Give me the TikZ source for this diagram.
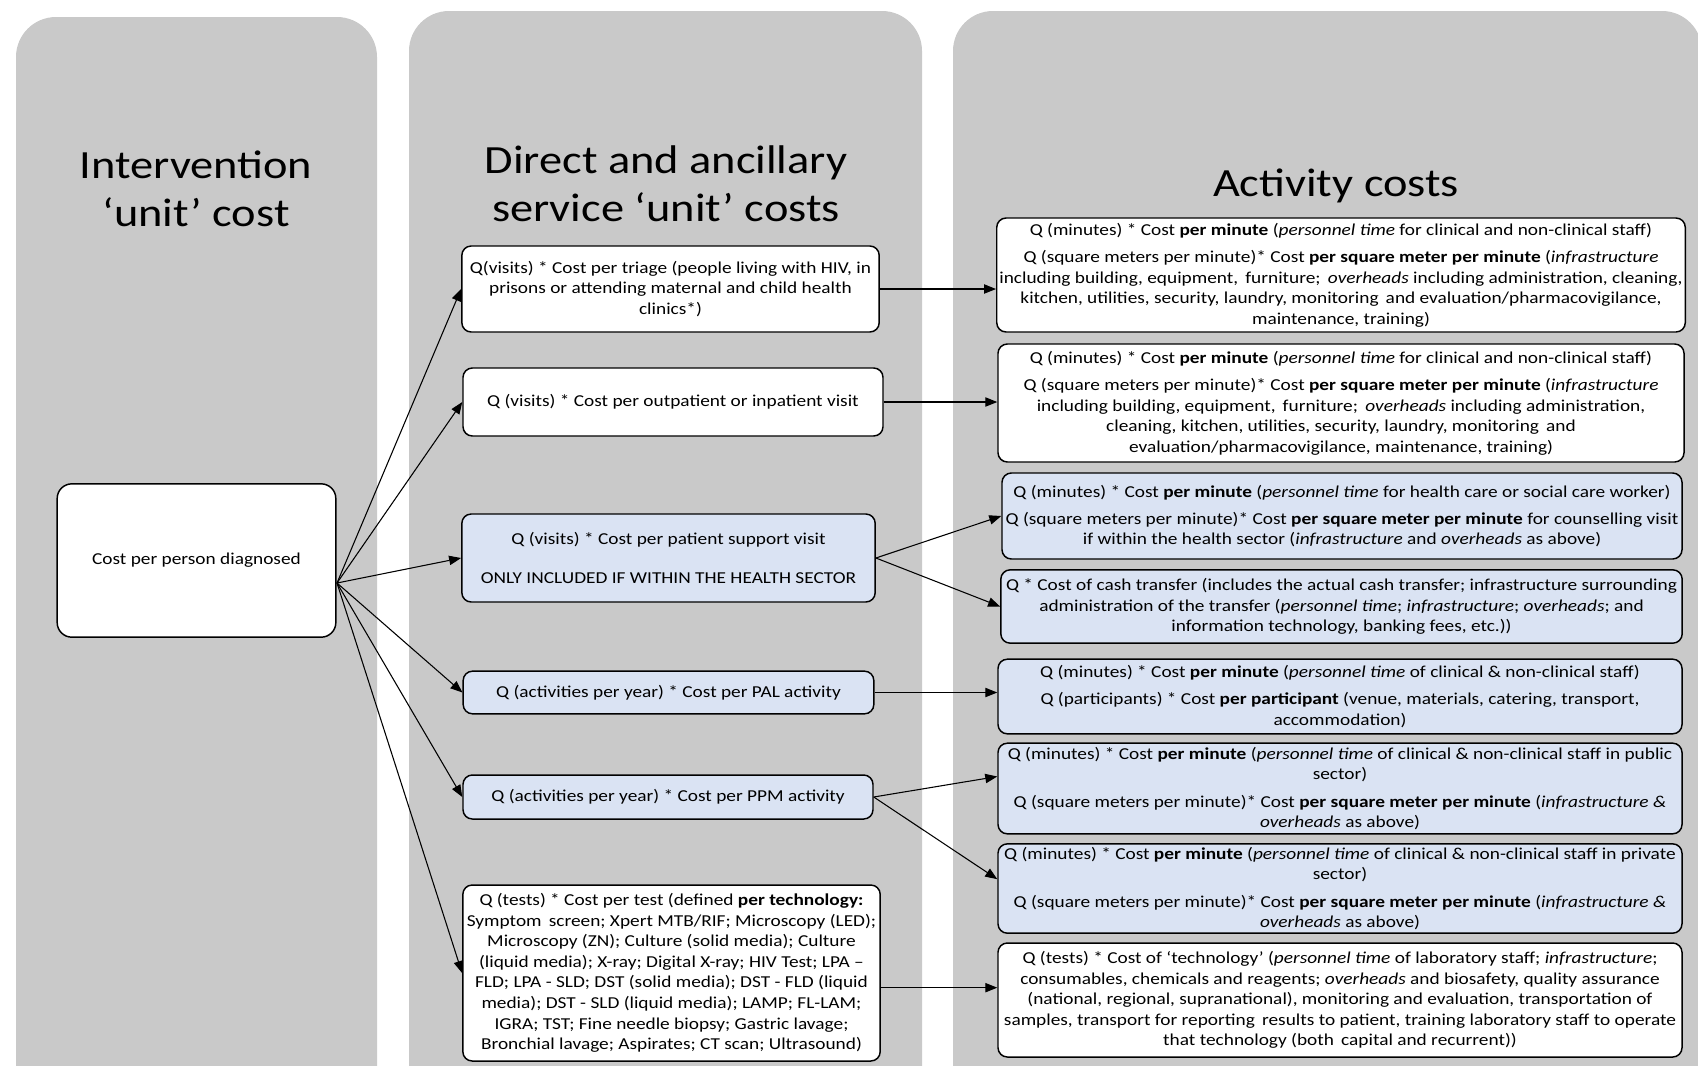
\documentclass[tikz,border=0pt]{standalone}
\usepackage{fontspec}
\setmainfont{Carlito}[FakeStretch=1.16]
\usepackage{tikz}
\usetikzlibrary{arrows.meta}
\definecolor{panelgray}{RGB}{201,201,201}
\definecolor{boxblue}{RGB}{218,227,243}

\begin{document}
\begin{tikzpicture}[x=0.75pt,y=-0.75pt,
    panel/.style={fill=panelgray, rounded corners=30pt},
    title/.style={font=\fontsize{30}{36}\selectfont, align=center},
    wbox/.style={draw, line width=1.1pt, rounded corners=7pt, fill=white,
        align=center, inner sep=2pt, font=\fontsize{12.5}{15.4}\selectfont},
    bbox/.style={wbox, fill=boxblue},
    conn/.style={line width=0.8pt, -{Triangle[length=9pt,width=7pt]}}]
				\useasboundingbox (0,0) rectangle (1698,1065);
				\clip (0,0) rectangle (1698,1065);
				
				% the three columns
				\fill[panel] (16,17) rectangle (377,1120);
				\fill[panel] (409,11) rectangle (922,1120);
				\fill[panel] (953,11) rectangle (1702,1120);
				
				\node[title] (t1) at (196,189) {Intervention\\‘unit’ cost};
				\node[title] (t2) at (666,184) {Direct and ancillary\\service ‘unit’ costs};
				\node[title] (t3) at (1336,186) {Activity costs};
				
				% intervention
				\node[wbox, rounded corners=11pt, minimum width=209pt, minimum height=115pt] (cpd) at (196.5,560.5) {Cost per person diagnosed};
				\coordinate (src) at (337,583);
				
				% services
				\node[wbox, minimum width=313pt, minimum height=64.5pt] (triage) at (670.5,289)
				  {Q(visits) * Cost per triage (people living with HIV, in\\
				   prisons or attending maternal and child health\\ clinics*)};
				\node[wbox, minimum width=315pt, minimum height=51pt] (opvisit) at (673,402)
				  {Q (visits) * Cost per outpatient or inpatient visit};
				\node[bbox, minimum width=310pt, minimum height=66pt] (support) at (668.5,558)
				  {Q (visits) * Cost per patient support visit\\[14pt]
				   ONLY INCLUDED IF WITHIN THE HEALTH SECTOR};
				\node[bbox, minimum width=308pt, minimum height=32pt] (pal) at (668.5,692.5)
				  {Q (activities per year) * Cost per PAL activity};
				\node[bbox, minimum width=307.5pt, minimum height=33pt] (ppm) at (668,797)
				  {Q (activities per year) * Cost per PPM activity};
				\node[wbox, minimum width=313pt, minimum height=132pt] (tests) at (671.5,973)
				  {Q (tests) * Cost per test (defined \textbf{per technology:}\\
				   Symptom\, screen; Xpert MTB/RIF; Microscopy (LED);\\
				   Microscopy (ZN); Culture (solid media); Culture\\
				   (liquid media); X-ray; Digital X-ray; HIV Test; LPA –\\
				   FLD; LPA - SLD; DST (solid media); DST - FLD (liquid\\
				   media); DST - SLD (liquid media); LAMP; FL-LAM;\\
				   IGRA; TST; Fine needle biopsy; Gastric lavage;\\
				   Bronchial lavage; Aspirates; CT scan; Ultrasound)};
				
				% activities
				\node[wbox, minimum width=514.5pt, minimum height=85.5pt] (staffA) at (1341,275)
				  {Q (minutes) * Cost \textbf{per minute} (\textit{personnel time} for clinical and non-clinical staff)\\[5pt]
				   Q (square meters per minute)* Cost \textbf{per square meter per minute} (\textit{infrastructure}\\
				   including building, equipment,\, furniture;\, \textit{overheads} including administration, cleaning,\\
				   kitchen, utilities, security, laundry, monitoring\, and evaluation/pharmacovigilance,\\
				   maintenance, training)};
				\node[wbox, minimum width=514.5pt, minimum height=88.5pt] (staffB) at (1341,403)
				  {Q (minutes) * Cost \textbf{per minute} (\textit{personnel time} for clinical and non-clinical staff)\\[5pt]
				   Q (square meters per minute)* Cost \textbf{per square meter per minute} (\textit{infrastructure}\\
				   including building, equipment,\, furniture;\, \textit{overheads} including administration,\\
				   cleaning, kitchen, utilities, security, laundry, monitoring\, and\\
				   evaluation/pharmacovigilance, maintenance, training)};
				\node[bbox, minimum width=510pt, minimum height=64.5pt] (counsel) at (1342,516)
				  {Q (minutes) * Cost \textbf{per minute} (\textit{personnel time} for health care or social care worker)\\[5pt]
				   Q (square meters per minute)* Cost \textbf{per square meter per minute} for counselling visit\\
				   if within the health sector (\textit{infrastructure} and \textit{overheads} as above)};
				\node[bbox, minimum width=511pt, minimum height=55pt] (cash) at (1341.5,606.5)
				  {Q * Cost of cash transfer (includes the actual cash transfer; infrastructure surrounding\\
				   administration of the transfer (\textit{personnel time}; \textit{infrastructure}; \textit{overheads}; and\\
				   information technology, banking fees, etc.))};
				\node[bbox, minimum width=513pt, minimum height=56pt] (palcost) at (1340,696.5)
				  {Q (minutes) * Cost \textbf{per minute} (\textit{personnel time} of clinical \& non-clinical staff)\\[5pt]
				   Q (participants) * Cost \textbf{per participant} (venue, materials, catering, transport,\\
				   accommodation)};
				\node[bbox, minimum width=513pt, minimum height=68pt] (public) at (1340,788.5)
				  {Q (minutes) * Cost \textbf{per minute} (\textit{personnel time} of clinical \& non-clinical staff in public\\
				   sector)\\[5pt]
				   Q (square meters per minute)* Cost \textbf{per square meter per minute} (\textit{infrastructure \&}\\
				   \textit{overheads} as above)};
				\node[bbox, minimum width=513pt, minimum height=67pt] (private) at (1340,888.5)
				  {Q (minutes) * Cost \textbf{per minute} (\textit{personnel time} of clinical \& non-clinical staff in private\\
				   sector)\\[5pt]
				   Q (square meters per minute)* Cost \textbf{per square meter per minute} (\textit{infrastructure \&}\\
				   \textit{overheads} as above)};
				\node[wbox, minimum width=513pt, minimum height=85.5pt] (lab) at (1340,1000)
				  {Q (tests) * Cost of ‘technology’ (\textit{personnel time} of laboratory staff; \textit{infrastructure};\\
				   consumables, chemicals and reagents; \textit{overheads} and biosafety, quality assurance\\
				   (national, regional, supranational), monitoring and evaluation, transportation of\\
				   samples, transport for reporting\, results to patient, training laboratory staff to operate\\
				   that technology (both\, capital and recurrent))};
				
				% fan out of the unit cost
				\draw[conn] (src) -- (triage.west);
				\draw[conn] (src) -- (opvisit.west);
				\draw[conn] (src) -- (support.west);
				\draw[conn] (src) -- (pal.west);
				\draw[conn] (src) -- (ppm.west);
				\draw[conn] (src) -- (tests.west);
				
				\draw[conn] (triage.east) -- (triage.east -| staffA.west);
				\draw[conn] (opvisit.east) -- (opvisit.east -| staffB.west);
				\draw[conn] (support.east) -- (counsel.west);
				\draw[conn] (support.east) -- (cash.west);
				\draw[conn] (pal.east) -- (pal.east -| palcost.west);
				\draw[conn] (ppm.east) -- ([yshift=9pt]public.west);
				\draw[conn] (ppm.east) -- ([yshift=7pt]private.west);
				\coordinate (t0) at ([yshift=-11pt]tests.east);
				\draw[conn] (t0) -- (t0 -| lab.west);
			\end{tikzpicture}
\end{document}
